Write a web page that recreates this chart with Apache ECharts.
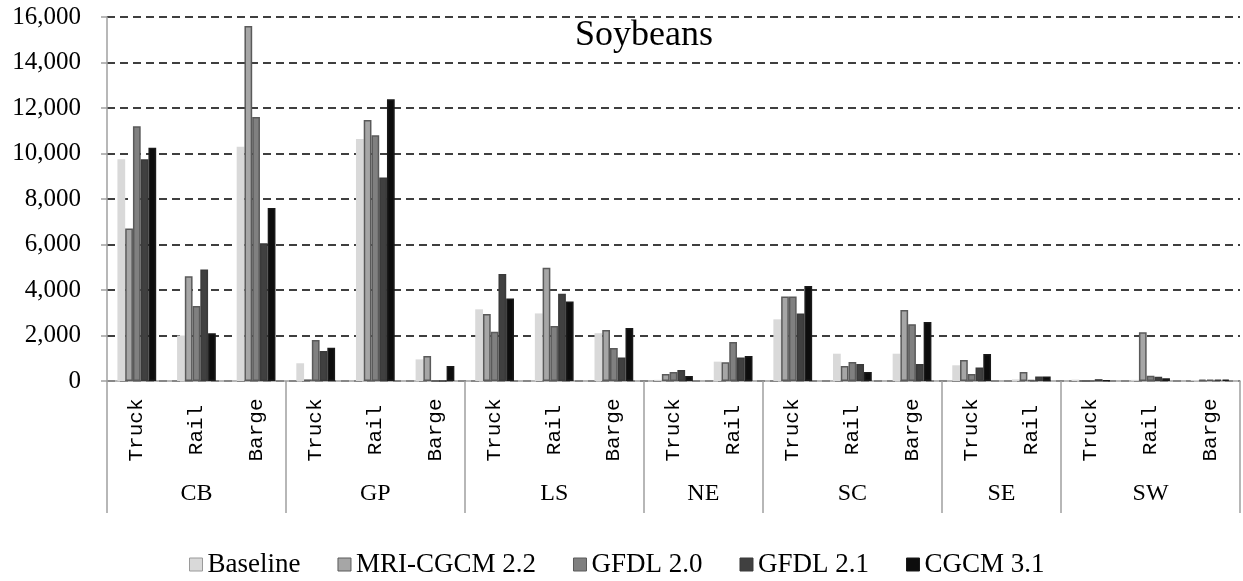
<!DOCTYPE html>
<html>
<head>
<meta charset="utf-8">
<script src="https://cdn.jsdelivr.net/npm/echarts@6/dist/echarts.min.js"></script>
<style>html,body{margin:0;padding:0;background:#fff;}#c{width:1243px;height:581px;}</style>
</head>
<body>
<div id="c"></div>
<script>
var categories = ['Truck','Rail','Barge','Truck','Rail','Barge','Truck','Rail','Barge','Truck','Rail','Truck','Rail','Barge','Truck','Rail','Truck','Rail','Barge'];
var groups = ['CB','GP','LS','NE','SC','SE','SW'];
var groupSizes = [3,3,3,2,3,2,3];
var yTicks = [0,2000,4000,6000,8000,10000,12000,14000,16000];
var seriesNames = ['Baseline','MRI-CGCM 2.2','GFDL 2.0','GFDL 2.1','CGCM 3.1'];
var baseline = [9750,2000,10300,780,10640,950,3150,2970,2100,50,850,2710,1200,1200,690,70,60,50,40];
var mri      = [6700,4600,15600,70,11470,1100,2950,4980,2240,310,820,3710,660,3120,920,400,0,2140,60];
var gfdl20   = [11200,3300,11600,1800,10800,0,2170,2420,1450,400,1710,3710,840,2500,310,50,0,230,60];
var gfdl21   = [9750,4900,6050,1320,8950,0,4700,3840,1030,480,1030,2970,750,750,590,200,80,190,60];
var cgcm     = [10250,2100,7600,1460,12380,660,3630,3490,2330,220,1100,4180,400,2590,1190,200,30,120,60];

var seriesData = [baseline, mri, gfdl20, gfdl21, cgcm];
var fills = ['#d9d9d9','#a6a6a6','#808080','#404040','#0d0d0d'];
var borders = ['#d9d9d9','#5a5a5a','#5a5a5a','#3a3a3a','#1a1a1a'];

var nHalf = categories.length * 2 + 1;
var halfData = [];
for (var i = 0; i < nHalf; i++) halfData.push('h' + i);
var centerMap = {};
var boundaries = [0];
var acc = 0;
groupSizes.forEach(function (s, gi) {
  centerMap[acc * 2 + s] = groups[gi];
  acc += s;
  boundaries.push(acc * 2);
});

var serif = 'Liberation Serif';
var chart = echarts.init(document.getElementById('c'));
chart.setOption({
  animation: false,
  title: {
    text: 'Soybeans', left: 570, top: 13,
    textStyle: { fontFamily: serif, fontSize: 36, fontWeight: 'normal', color: '#000' }
  },
  legend: {
    left: 184, top: 546, icon: 'rect', itemWidth: 13, itemHeight: 13, itemGap: 37,
    textStyle: { fontFamily: serif, fontSize: 27, color: '#000' },
    data: seriesNames.map(function (n, k) {
      return { name: n, itemStyle: { borderColor: k === 0 ? '#9a9a9a' : borders[k], borderWidth: 1 } };
    })
  },
  grid: { left: 107, right: 3, top: 17, bottom: 200, containLabel: false },
  xAxis: [{
    type: 'category', data: categories,
    axisLine: { lineStyle: { color: '#a0a0a0', width: 1.5 } },
    axisTick: { show: false },
    axisLabel: {
      interval: 0, rotate: 90, align: 'center', verticalAlign: 'middle', margin: 49,
      fontFamily: 'Liberation Mono', fontSize: 21, color: '#000'
    }
  }, {
    type: 'category', data: halfData, boundaryGap: false, position: 'bottom',
    axisLine: { show: false },
    axisTick: {
      show: true, length: 132, inside: false,
      interval: function (idx) { return boundaries.indexOf(idx) >= 0; },
      lineStyle: { color: '#a0a0a0', width: 1.5 }
    },
    axisLabel: {
      interval: 0, margin: 113, verticalAlign: 'middle',
      formatter: function (v, idx) { return centerMap[idx] || ''; },
      fontFamily: serif, fontSize: 24, color: '#000'
    },
    splitLine: { show: false }
  }],
  yAxis: {
    type: 'value', min: 0, max: 16000, interval: 2000,
    axisLine: { show: true, lineStyle: { color: '#a0a0a0', width: 1.5 } },
    axisTick: { show: true, length: 6, lineStyle: { color: '#a0a0a0', width: 1.5 } },
    axisLabel: {
      margin: 26, fontFamily: serif, fontSize: 25, color: '#000',
      formatter: function (v) { return v.toLocaleString('en-US'); }
    },
    splitLine: { show: true, lineStyle: { color: '#000', type: [8, 5], width: 1.5 } }
  },
  series: seriesNames.map(function (n, k) {
    return {
      name: n, type: 'bar', xAxisIndex: 0, data: seriesData[k],
      barGap: '0%', barCategoryGap: '35%',
      itemStyle: { color: fills[k], borderColor: borders[k], borderWidth: k === 0 ? 0 : 1.5 }
    };
  })
});
</script>
</body>
</html>
